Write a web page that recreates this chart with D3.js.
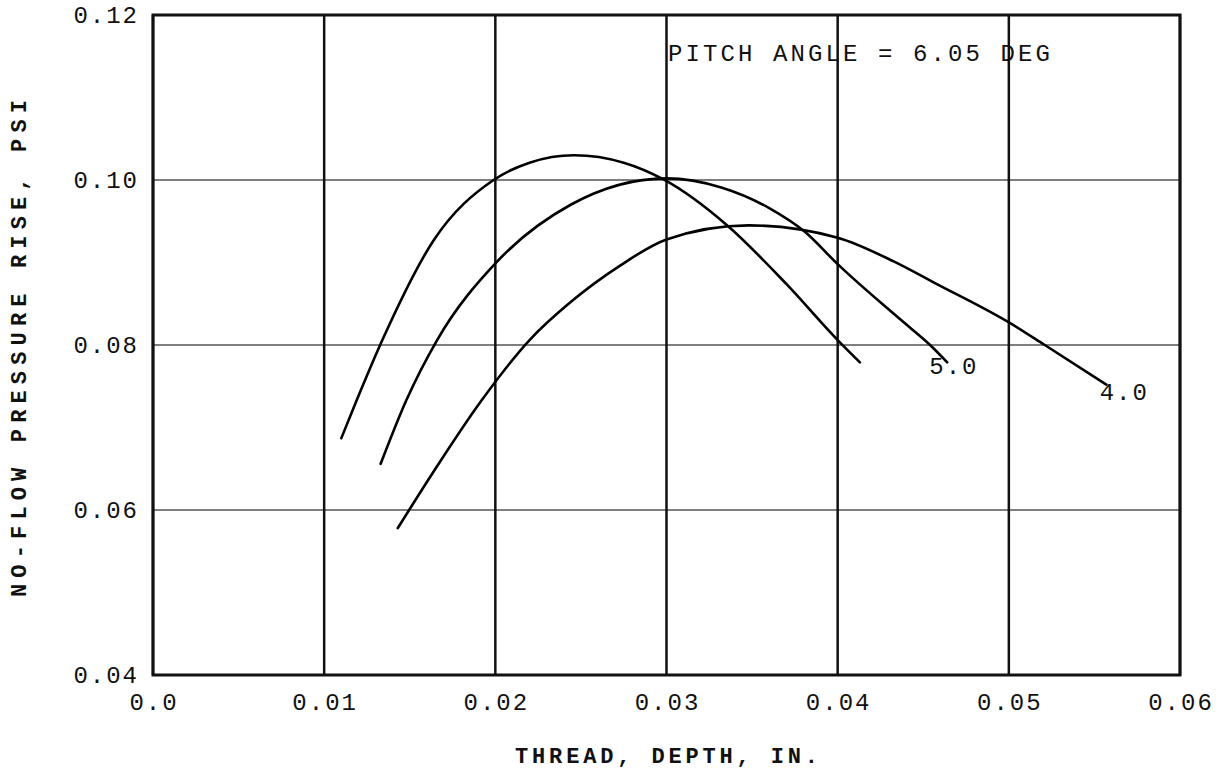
<!DOCTYPE html>
<html>
<head>
<meta charset="utf-8">
<script src="https://cdn.jsdelivr.net/npm/d3@7"></script>
<style>
  body { margin: 0; background: #fff; }
  text { font-family: "Liberation Mono", "Courier New", monospace; fill: #111; }
</style>
</head>
<body>
<div id="chart"></div>
<script>
// values (thread depth in, pressure rise psi)
var xTicks = [0, 0.01, 0.02, 0.03, 0.04, 0.05, 0.06];
var yTicks = [0.04, 0.06, 0.08, 0.10, 0.12];
var xTickLabels = ["0.0", "0.01", "0.02", "0.03", "0.04", "0.05", "0.06"];
var yTickLabels = ["0.04", "0.06", "0.08", "0.10", "0.12"];

// unlabeled curve (highest peak)
var curveA = [
  [0.0110, 0.0687], [0.0119, 0.0733], [0.0134, 0.0806], [0.0164, 0.0927],
  [0.0199, 0.1000], [0.0220, 0.1021], [0.0246, 0.1030],
  [0.0275, 0.1021], [0.0298, 0.1001], [0.0336, 0.0944], [0.0370, 0.0874],
  [0.0400, 0.0806], [0.0413, 0.0779]
];
// 5.0
var curveB = [
  [0.0133, 0.0656], [0.0148, 0.0733], [0.0166, 0.0806], [0.0201, 0.0901],
  [0.0244, 0.0970], [0.0300, 0.1002], [0.0332, 0.0991], [0.0360, 0.0966],
  [0.0381, 0.0937], [0.0400, 0.0898], [0.0436, 0.0832], [0.0454, 0.0800],
  [0.0464, 0.0779]
];
// 4.0
var curveC = [
  [0.0143, 0.0578], [0.0165, 0.0650], [0.0192, 0.0733], [0.0220, 0.0806],
  [0.0244, 0.0852], [0.0272, 0.0895], [0.0300, 0.0928], [0.0348, 0.0945],
  [0.0400, 0.0930], [0.0433, 0.0901], [0.0456, 0.0876], [0.0502, 0.0825],
  [0.0521, 0.0800], [0.0557, 0.0752]
];

var curveLabels = [
  { text: "5.0", x: 0.04535, y: 0.0765 },
  { text: "4.0", x: 0.05531, y: 0.0733 }
];

var W = 1227, H = 773;
var x = d3.scaleLinear().domain([0, 0.06]).range([153, 1180]);
var y = d3.scaleLinear().domain([0.04, 0.12]).range([675, 15]);

var svg = d3.select("#chart").append("svg")
  .attr("width", W)
  .attr("height", H);

// horizontal grid (faint, like the scan)
svg.append("g")
  .selectAll("line")
  .data(yTicks)
  .enter()
  .append("line")
  .attr("x1", x(0)).attr("x2", x(0.06))
  .attr("y1", (d) => y(d)).attr("y2", (d) => y(d))
  .attr("stroke", "#555")
  .attr("stroke-width", 1.5);

// vertical grid
svg.append("g")
  .selectAll("line")
  .data(xTicks)
  .enter()
  .append("line")
  .attr("x1", (d) => x(d)).attr("x2", (d) => x(d))
  .attr("y1", y(0.12)).attr("y2", y(0.04))
  .attr("stroke", "#111")
  .attr("stroke-width", 2.5);

// frame
svg.append("rect")
  .attr("x", x(0)).attr("y", y(0.12))
  .attr("width", x(0.06) - x(0))
  .attr("height", y(0.04) - y(0.12))
  .attr("fill", "none")
  .attr("stroke", "#111")
  .attr("stroke-width", 3);

// tick labels
svg.append("g")
  .selectAll("text")
  .data(xTicks)
  .enter()
  .append("text")
  .attr("x", (d) => x(d) + 1)
  .attr("y", 710)
  .attr("text-anchor", "middle")
  .attr("font-size", 24)
  .attr("letter-spacing", 2)
  .text((d, i) => xTickLabels[i]);

svg.append("g")
  .selectAll("text")
  .data(yTicks)
  .enter()
  .append("text")
  .attr("x", 139)
  .attr("y", (d) => y(d) + 8)
  .attr("text-anchor", "end")
  .attr("font-size", 24)
  .attr("letter-spacing", 2)
  .text((d, i) => yTickLabels[i]);

// curves
var line = d3.line()
  .x((d) => x(d[0]))
  .y((d) => y(d[1]))
  .curve(d3.curveMonotoneX);

svg.append("g")
  .selectAll("path")
  .data([curveA, curveB, curveC])
  .enter()
  .append("path")
  .attr("d", line)
  .attr("fill", "none")
  .attr("stroke", "#000")
  .attr("stroke-width", 2.6)
  .attr("stroke-linecap", "round");

svg.append("g")
  .selectAll("text")
  .data(curveLabels)
  .enter()
  .append("text")
  .attr("x", (d) => x(d.x))
  .attr("y", (d) => y(d.y))
  .attr("font-size", 24)
  .attr("letter-spacing", 2)
  .text((d) => d.text);

// annotation
svg.append("text")
  .attr("x", 668)
  .attr("y", 61)
  .attr("font-size", 24)
  .attr("textLength", 382)
  .attr("lengthAdjust", "spacing")
  .text("PITCH ANGLE = 6.05 DEG");

// axis titles
svg.append("text")
  .attr("x", 515)
  .attr("y", 763)
  .attr("font-size", 22)
  .attr("font-weight", "bold")
  .attr("textLength", 303)
  .attr("lengthAdjust", "spacing")
  .text("THREAD, DEPTH, IN.");

svg.append("text")
  .attr("transform", "translate(26,597) rotate(-90)")
  .attr("font-size", 22)
  .attr("font-weight", "bold")
  .attr("textLength", 497)
  .attr("lengthAdjust", "spacing")
  .text("NO-FLOW PRESSURE RISE, PSI");
</script>
</body>
</html>
